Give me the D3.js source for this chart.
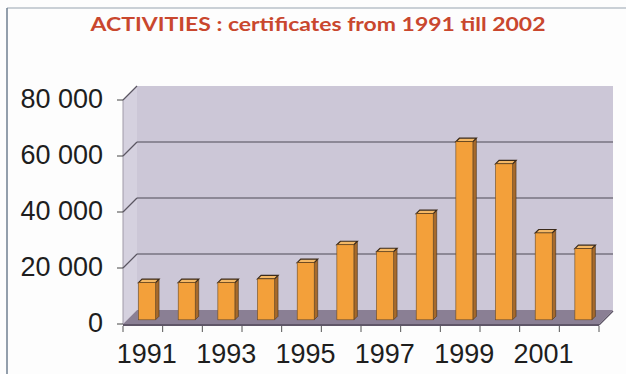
<!DOCTYPE html>
<html><head><meta charset="utf-8">
<script src="https://cdn.jsdelivr.net/npm/d3@7/dist/d3.min.js"></script>
<style>body{margin:0;background:#fdfdfd}svg{display:block}</style>
</head><body>
<svg id="c" width="626" height="374"></svg>
<script>
const years = ["1991","1992","1993","1994","1995","1996","1997","1998","1999","2000","2001","2002"];
const certificates = [13300, 13300, 13300, 14600, 20400, 26800, 24300, 37900, 63600, 55700, 31000, 25400];
const yTicks = [0, 20000, 40000, 60000, 80000];
const yTickLabels = ["0", "20 000", "40 000", "60 000", "80 000"];
const xTickLabels = ["1991","1993","1995","1997","1999","2001"];
const title = "ACTIVITIES : certificates from 1991 till 2002";

const svg = d3.select("#c");
const DX = 14, DY = -14;
const x = d3.scaleBand().domain(years).range([123, 599]).paddingInner(0).paddingOuter(0);
const y = d3.scaleLinear().domain([0, 80000]).range([324, 100]);
const y0 = y(0), yTop = y(80000), xL = 123, xR = 599;

// page frame
svg.append("line").attr("x1",7).attr("x2",626).attr("y1",8).attr("y2",8).attr("stroke","#b9c0c8").attr("stroke-width",1.5);
svg.append("line").attr("x1",7).attr("x2",7).attr("y1",8).attr("y2",374).attr("stroke","#6f7f90").attr("stroke-width",1.5);

// title
svg.append("text").attr("x",318).attr("y",31).attr("text-anchor","middle")
  .attr("font-family","Lato, 'Open Sans', sans-serif").attr("font-weight","bold").attr("font-size",19)
  .attr("fill","#c9472e").attr("textLength",455).attr("lengthAdjust","spacingAndGlyphs").text(title);

const pts = a => a.map(p => p.join(",")).join(" ");
// back wall
svg.append("polygon").attr("points", pts([[xL+DX,yTop+DY],[xR+DX,yTop+DY],[xR+DX,y0+DY],[xL+DX,y0+DY]])).attr("fill","#ccc7d7");
// left wall
svg.append("polygon").attr("points", pts([[xL,yTop],[xL+DX,yTop+DY],[xL+DX,y0+DY],[xL,y0]])).attr("fill","#d5d1df");
svg.append("line").attr("x1",xL).attr("x2",xL).attr("y1",yTop).attr("y2",y0).attr("stroke","#a09aa8").attr("stroke-width",1);
// floor
svg.append("polygon").attr("points", pts([[xL,y0],[xL+DX,y0+DY],[xR+DX,y0+DY],[xR,y0]])).attr("fill","#8a7f94");
svg.append("line").attr("x1",xL).attr("x2",xR).attr("y1",y0+1).attr("y2",y0+1).attr("stroke","#5f5668").attr("stroke-width",2);
svg.append("line").attr("x1",xR).attr("x2",xR+DX).attr("y1",y0+1).attr("y2",y0+DY+1).attr("stroke","#5f5668").attr("stroke-width",1.5);

// gridlines (back + left wall)
const grid = svg.append("g");
yTicks.filter(t => t > 0 && t < 80000).forEach(t => {
  grid.append("line").attr("x1",xL+DX).attr("x2",xR+DX).attr("y1",y(t)+DY).attr("y2",y(t)+DY).attr("stroke","#4d4a57").attr("stroke-width",1.2);
});
yTicks.filter(t => t > 0).forEach(t => {
  grid.append("line").attr("x1",xL).attr("x2",xL+DX).attr("y1",y(t)).attr("y2",y(t)+DY).attr("stroke","#5a5662").attr("stroke-width",1.2);
});

// y axis ticks & labels
yTicks.forEach((t,i) => {
  svg.append("line").attr("x1",xL-6).attr("x2",xL).attr("y1",y(t)).attr("y2",y(t)).attr("stroke","#444").attr("stroke-width",1);
  svg.append("text").attr("x",103).attr("y",y(t)+8).attr("text-anchor","end")
    .attr("font-family","'Liberation Sans', Arial, sans-serif").attr("font-size",27).attr("fill","#1e1e1e").text(yTickLabels[i]);
});

// x ticks
years.concat(["end"]).forEach((yr,i) => {
  const xx = xL + i * x.bandwidth();
  svg.append("line").attr("x1",xx).attr("x2",xx).attr("y1",y0+2).attr("y2",y0+8).attr("stroke","#555").attr("stroke-width",1);
});
xTickLabels.forEach(l => {
  svg.append("text").attr("x",x(l)+x.bandwidth()/2+4).attr("y",363).attr("text-anchor","middle")
    .attr("font-family","'Liberation Sans', Arial, sans-serif").attr("font-size",27).attr("fill","#1e1e1e").text(l);
});

// bars
const bw = 17, fo = 0.3, dep = 0.25;
const bars = svg.append("g");
years.forEach((yr,i) => {
  const v = certificates[i];
  const cx = x(yr) + x.bandwidth()/2 + DX*fo;
  const x0 = cx - bw/2, x1 = cx + bw/2;
  const yb = y(0) + DY*fo, yt = y(v) + DY*fo;
  const ddx = DX*dep, ddy = DY*dep;
  bars.append("polygon").attr("points", pts([[x1,yt],[x1+ddx,yt+ddy],[x1+ddx,yb+ddy],[x1,yb]]))
    .attr("fill","#a66a2c").attr("stroke","#4a3015").attr("stroke-width",0.6);
  bars.append("polygon").attr("points", pts([[x0,yt],[x0+ddx,yt+ddy],[x1+ddx,yt+ddy],[x1,yt]]))
    .attr("fill","#f4b865").attr("stroke","#3a2a1a").attr("stroke-width",1.2);
  bars.append("rect").attr("x",x0).attr("y",yt).attr("width",bw).attr("height",yb-yt)
    .attr("fill","#f3a03a").attr("stroke","#6b4a22").attr("stroke-width",0.6);
});
</script>
</body></html>
